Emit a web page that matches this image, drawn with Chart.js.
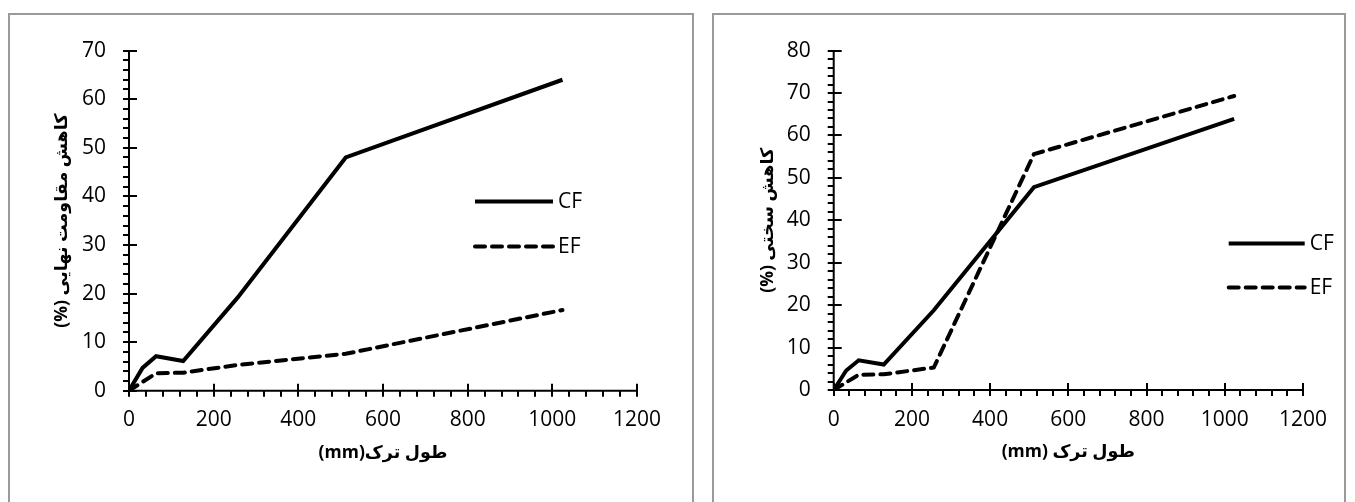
<!DOCTYPE html>
<html>
<head>
<meta charset="utf-8">
<script src="https://cdn.jsdelivr.net/npm/chart.js@4/dist/chart.umd.min.js"></script>
<style>
  body { margin: 0; background: #fff; width: 1355px; height: 502px; overflow: hidden; position: relative; }
  .panel { position: absolute; border: 2px solid #9a9a9a; background: #fff; }
  #p1 { left: 8px; top: 13px; width: 682px; height: 500px; }
  #p2 { left: 712px; top: 13px; width: 630px; height: 500px; }
  canvas { display: block; }
</style>
</head>
<body>
<div class="panel" id="p1"><canvas id="chart-strength" dir="rtl" width="682" height="487"></canvas></div>
<div class="panel" id="p2"><canvas id="chart-stiffness" dir="rtl" width="630" height="487"></canvas></div>

<script>
// crack length (mm)
const crackLength = [0, 32, 64, 128, 256, 512, 1024];

// ultimate strength reduction (%)
const strengthCF = [0, 4.7, 7.1, 6.1, 19.1, 48.0, 64.0];
const strengthEF = [0, 1.8, 3.6, 3.7, 5.3, 7.6, 16.6];

// stiffness reduction (%)
const stiffnessCF = [0, 4.6, 7.0, 6.0, 18.8, 47.8, 63.9];
const stiffnessEF = [0, 1.8, 3.6, 3.7, 5.3, 55.6, 69.3];

const seriesNames = ['CF', 'EF'];
const xTicks = [0, 200, 400, 600, 800, 1000, 1200];
const strengthYTicks = [0, 10, 20, 30, 40, 50, 60, 70];
const stiffnessYTicks = [0, 10, 20, 30, 40, 50, 60, 70, 80];

const tickFont = { family: '"Open Sans", sans-serif', size: 21 };
const titleFont = { family: '"Open Sans", "DejaVu Sans", sans-serif', size: 17.5, weight: 'bold' };

// excel style axes: major ticks cross the axis, minor ticks outside
const excelAxes = {
  id: 'excelAxes',
  beforeDatasetsDraw(chart, args, opts) {
    const { ctx } = chart;
    const xs = chart.scales.x, ys = chart.scales.y;
    const x0 = xs.getPixelForValue(xs.min);
    const y0 = ys.getPixelForValue(ys.min);
    ctx.save();
    ctx.strokeStyle = '#000';
    ctx.lineWidth = 2;
    ctx.beginPath();
    ctx.moveTo(x0, ys.getPixelForValue(ys.max));
    ctx.lineTo(x0, y0);
    ctx.lineTo(xs.getPixelForValue(xs.max), y0);
    ctx.stroke();

    ctx.beginPath();
    const ny = Math.round((ys.max - ys.min) / opts.yMinor);
    for (let i = 0; i <= ny; i++) {
      const v = ys.min + i * opts.yMinor;
      const py = Math.round(ys.getPixelForValue(v));
      const major = v % opts.yMajor === 0;
      ctx.moveTo(x0 - 6, py);
      ctx.lineTo(major ? x0 + 8 : x0, py);
    }
    const nx = Math.round((xs.max - xs.min) / opts.xMinor);
    for (let i = 0; i <= nx; i++) {
      const v = xs.min + i * opts.xMinor;
      const px = Math.round(xs.getPixelForValue(v));
      const major = v % opts.xMajor === 0;
      ctx.moveTo(px, major ? y0 - 7 : y0);
      ctx.lineTo(px, y0 + 6);
    }
    ctx.stroke();
    ctx.restore();
  }
};

// legend drawn inside the plot area
const innerLegend = {
  id: 'innerLegend',
  afterDraw(chart, args, opts) {
    const { ctx, chartArea } = chart;
    chart.data.datasets.forEach((ds, i) => {
      const lx = chartArea.left + opts.x;
      const ly = chartArea.top + opts.y + i * opts.gap;
      ctx.save();
      ctx.strokeStyle = ds.borderColor;
      ctx.lineWidth = ds.borderWidth;
      ctx.lineCap = ds.borderCapStyle || 'butt';
      ctx.setLineDash(ds.borderDash || []);
      ctx.beginPath();
      ctx.moveTo(lx, ly);
      ctx.lineTo(lx + opts.len, ly);
      ctx.stroke();
      ctx.setLineDash([]);
      ctx.fillStyle = '#000';
      ctx.font = `${tickFont.size}px ${tickFont.family}`;
      ctx.textAlign = 'left';
      ctx.textBaseline = 'middle';
      ctx.fillText(ds.label, lx + opts.len + 5, ly);
      ctx.restore();
    });
  }
};

function makeChart(id, cf, ef, yTicks, yTitle, xTitle, layout) {
  const pts = arr => crackLength.map((x, i) => ({ x: x, y: arr[i] }));
  const lineStyle = { borderColor: '#000', borderWidth: 4, pointRadius: 0, fill: false, tension: 0 };
  return new Chart(document.getElementById(id), {
    type: 'line',
    data: {
      datasets: [
        { ...lineStyle, label: seriesNames[0], data: pts(cf), borderCapStyle: 'butt' },
        { ...lineStyle, label: seriesNames[1], data: pts(ef), borderDash: [10, 7], borderCapStyle: 'round' }
      ]
    },
    options: {
      responsive: false,
      animation: false,
      layout: { padding: layout.padding },
      plugins: {
        legend: { display: false },
        tooltip: { enabled: false },
        innerLegend: layout.legend,
        excelAxes: { xMinor: 40, xMajor: 200, yMinor: 2, yMajor: 10 }
      },
      scales: {
        x: {
          type: 'linear',
          min: xTicks[0],
          max: xTicks[xTicks.length - 1],
          afterBuildTicks: s => { s.ticks = xTicks.map(v => ({ value: v })); },
          afterFit: s => { s.height = 90; },
          grid: { display: false, drawTicks: false },
          border: { display: false },
          ticks: { color: '#000', font: tickFont, padding: 17, maxRotation: 0, callback: v => String(v) },
          title: { display: true, text: xTitle, color: '#000', font: titleFont, padding: { top: 0, bottom: 17 } }
        },
        y: {
          min: yTicks[0],
          max: yTicks[yTicks.length - 1],
          afterBuildTicks: s => { s.ticks = yTicks.map(v => ({ value: v })); },
          afterFit: s => { s.width = layout.yWidth; },
          grid: { display: false, drawTicks: false },
          border: { display: false },
          ticks: { color: '#000', font: tickFont, padding: 23, callback: v => String(v) },
          title: { display: true, text: yTitle, color: '#000', font: titleFont, padding: { top: layout.yTitlePad, bottom: 0 } }
        }
      }
    },
    plugins: [excelAxes, innerLegend]
  });
}

makeChart('chart-strength', strengthCF, strengthEF, strengthYTicks,
  'کاهش مقاومت نهایی (%)', 'طول ترک(mm)', {
    padding: { left: 10, right: 55, top: 30.7, bottom: 21.3 },
    yWidth: 109,
    yTitlePad: 31.5,
    legend: { x: 346, y: 151, gap: 45, len: 78 }
  });

makeChart('chart-stiffness', stiffnessCF, stiffnessEF, stiffnessYTicks,
  'کاهش سختی (%)', 'طول ترک (mm)', {
    padding: { left: 10, right: 35.5, top: 30.7, bottom: 22 },
    yWidth: 109.7,
    yTitlePad: 33.5,
    legend: { x: 395, y: 193, gap: 44, len: 76 }
  });
</script>
</body>
</html>
